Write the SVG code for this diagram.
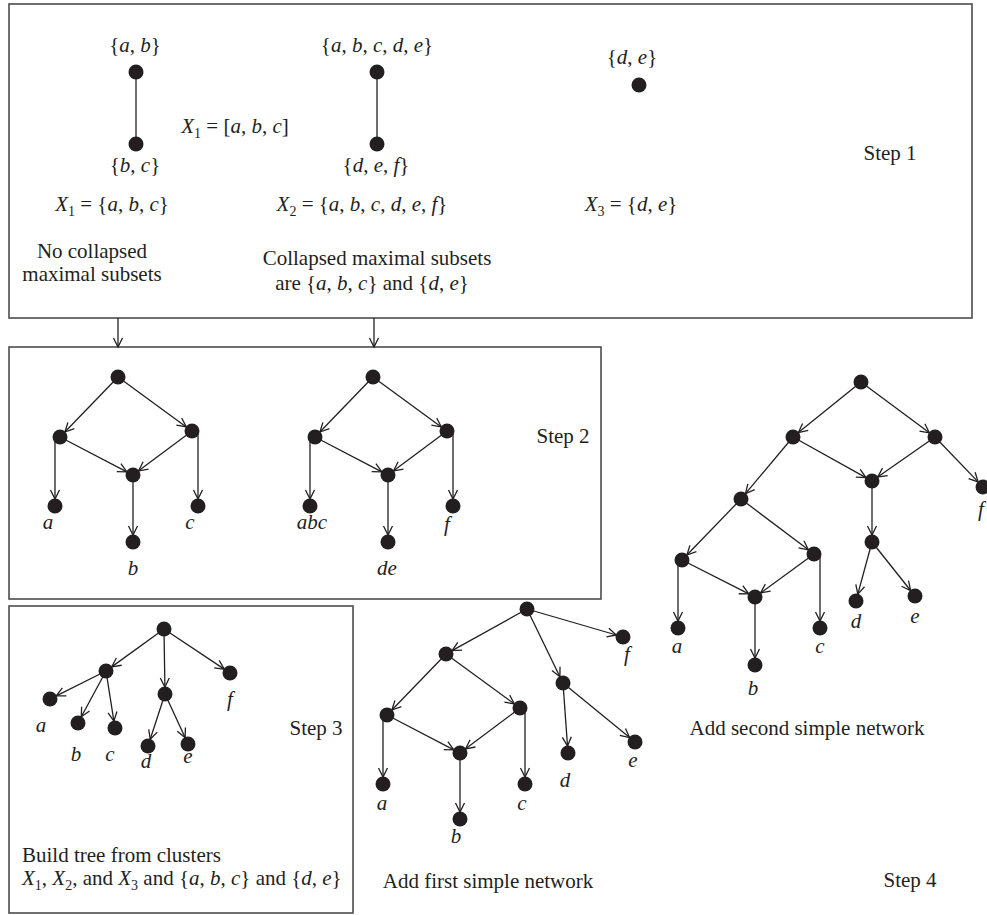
<svg xmlns="http://www.w3.org/2000/svg" width="987" height="915" viewBox="0 0 987 915">
<style>
text{font-family:"Liberation Serif","Times New Roman",serif;font-size:21px;fill:#231f20}
.i{font-style:italic}
.sub{font-size:14px}
.c{text-anchor:middle}
.box{fill:none;stroke:#4d4d4d;stroke-width:1.6}
.e{stroke:#231f20;stroke-width:1.3;fill:none}
.a{marker-end:url(#arr)}
.n{fill:#231f20}
</style>
<defs>
<marker id="arr" markerUnits="userSpaceOnUse" markerWidth="12" markerHeight="12" viewBox="0 0 12 12" refX="10" refY="6" orient="auto">
<path d="M1,1.5 L10,6 L1,10.5" fill="none" stroke="#231f20" stroke-width="1.3"/>
</marker>
</defs>
<rect width="987" height="915" fill="#fff"/>
<g id="frames">
<rect class="box" x="9" y="4" width="963" height="314"/>
<rect class="box" x="9" y="347" width="592" height="252"/>
<rect class="box" x="9" y="606" width="344" height="307"/>
</g>
<g id="connectors">
<line class="e" x1="136" y1="72" x2="136" y2="144"/>
<line class="e" x1="377" y1="72" x2="377" y2="144"/>
<line class="e a" x1="118" y1="318" x2="118" y2="347"/>
<line class="e a" x1="374" y1="318" x2="374" y2="347"/>
<line class="e a" x1="118" y1="377" x2="64.9" y2="432"/>
<line class="e a" x1="118" y1="377" x2="186.3" y2="426.9"/>
<line class="e a" x1="60" y1="437" x2="126.8" y2="471.8"/>
<line class="e a" x1="192" y1="431" x2="138.6" y2="470.8"/>
<line class="e a" x1="55" y1="437" x2="55" y2="499"/>
<line class="e a" x1="198" y1="431" x2="198" y2="499"/>
<line class="e a" x1="133" y1="475" x2="133" y2="535"/>
<line class="e a" x1="373" y1="377" x2="319.9" y2="432"/>
<line class="e a" x1="373" y1="377" x2="441.3" y2="426.9"/>
<line class="e a" x1="315" y1="437" x2="381.8" y2="471.8"/>
<line class="e a" x1="447" y1="431" x2="393.6" y2="470.8"/>
<line class="e a" x1="310" y1="437" x2="310" y2="499"/>
<line class="e a" x1="453" y1="431" x2="453" y2="499"/>
<line class="e a" x1="388" y1="475" x2="388" y2="535"/>
<line class="e a" x1="164" y1="629" x2="111.7" y2="666.9"/>
<line class="e a" x1="164" y1="629" x2="164.9" y2="687"/>
<line class="e a" x1="164" y1="629" x2="224.2" y2="669.1"/>
<line class="e a" x1="106" y1="671" x2="56.3" y2="695.9"/>
<line class="e a" x1="106" y1="671" x2="81.3" y2="716.8"/>
<line class="e a" x1="106" y1="671" x2="113.9" y2="721.1"/>
<line class="e a" x1="165" y1="694" x2="150.2" y2="739.3"/>
<line class="e a" x1="165" y1="694" x2="185.1" y2="737.6"/>
<line class="e a" x1="527" y1="609" x2="452.1" y2="650.6"/>
<line class="e a" x1="527" y1="609" x2="616.3" y2="635"/>
<line class="e a" x1="527" y1="609" x2="559.9" y2="676.7"/>
<line class="e a" x1="446" y1="654" x2="391.9" y2="710"/>
<line class="e a" x1="446" y1="654" x2="514.3" y2="703.9"/>
<line class="e a" x1="387" y1="715" x2="453.8" y2="749.8"/>
<line class="e a" x1="520" y1="708" x2="465.6" y2="748.8"/>
<line class="e a" x1="383" y1="715" x2="383" y2="777"/>
<line class="e a" x1="525" y1="708" x2="525" y2="777"/>
<line class="e a" x1="460" y1="753" x2="460" y2="812"/>
<line class="e a" x1="563" y1="683" x2="567.5" y2="746"/>
<line class="e a" x1="563" y1="683" x2="629.6" y2="737.6"/>
<line class="e a" x1="861" y1="382" x2="798.4" y2="432.6"/>
<line class="e a" x1="861" y1="382" x2="929.4" y2="432.8"/>
<line class="e a" x1="793" y1="437" x2="865.9" y2="477.6"/>
<line class="e a" x1="935" y1="437" x2="877.7" y2="477"/>
<line class="e a" x1="935" y1="437" x2="978.1" y2="481.9"/>
<line class="e a" x1="793" y1="437" x2="745.5" y2="493.6"/>
<line class="e a" x1="872" y1="481" x2="872" y2="535"/>
<line class="e a" x1="741" y1="499" x2="686.9" y2="555"/>
<line class="e a" x1="741" y1="499" x2="808.4" y2="549.8"/>
<line class="e a" x1="682" y1="560" x2="748.8" y2="593.8"/>
<line class="e a" x1="814" y1="554" x2="760.7" y2="592.9"/>
<line class="e a" x1="678" y1="560" x2="678" y2="621"/>
<line class="e a" x1="820" y1="554" x2="820" y2="621"/>
<line class="e a" x1="755" y1="597" x2="755" y2="658"/>
<line class="e a" x1="872" y1="542" x2="857.8" y2="594.2"/>
<line class="e a" x1="872" y1="542" x2="910.6" y2="590.5"/>
</g>
<g id="s1-ab"><circle class="n" cx="136" cy="72" r="7.5"/><text class="c" x="135" y="52">{<tspan class="i">a</tspan>, <tspan class="i">b</tspan>}</text></g>
<g id="s1-bc"><circle class="n" cx="136" cy="144" r="7.5"/><text class="c" x="135" y="172">{<tspan class="i">b</tspan>, <tspan class="i">c</tspan>}</text></g>
<g id="s1-abcde"><circle class="n" cx="377" cy="72" r="7.5"/><text class="c" x="377" y="52">{<tspan class="i">a</tspan>, <tspan class="i">b</tspan>, <tspan class="i">c</tspan>, <tspan class="i">d</tspan>, <tspan class="i">e</tspan>}</text></g>
<g id="s1-def"><circle class="n" cx="377" cy="144" r="7.5"/><text class="c" x="376" y="172">{<tspan class="i">d</tspan>, <tspan class="i">e</tspan>, <tspan class="i">f</tspan>}</text></g>
<g id="s1-de"><circle class="n" cx="639" cy="85" r="7.5"/><text class="c" x="632" y="64">{<tspan class="i">d</tspan>, <tspan class="i">e</tspan>}</text></g>
<g id="s2l-root"><circle class="n" cx="118" cy="377" r="7.5"/></g>
<g id="s2l-l"><circle class="n" cx="60" cy="437" r="7.5"/></g>
<g id="s2l-r"><circle class="n" cx="192" cy="431" r="7.5"/></g>
<g id="s2l-m"><circle class="n" cx="133" cy="475" r="7.5"/></g>
<g id="s2l-a"><circle class="n" cx="55" cy="506" r="7.5"/><text class="c i" x="48" y="529">a</text></g>
<g id="s2l-c"><circle class="n" cx="198" cy="506" r="7.5"/><text class="c i" x="190" y="529">c</text></g>
<g id="s2l-b"><circle class="n" cx="133" cy="542" r="7.5"/><text class="c i" x="133" y="575">b</text></g>
<g id="s2r-root"><circle class="n" cx="373" cy="377" r="7.5"/></g>
<g id="s2r-l"><circle class="n" cx="315" cy="437" r="7.5"/></g>
<g id="s2r-r"><circle class="n" cx="447" cy="431" r="7.5"/></g>
<g id="s2r-m"><circle class="n" cx="388" cy="475" r="7.5"/></g>
<g id="s2r-abc"><circle class="n" cx="310" cy="506" r="7.5"/><text class="c i" x="312" y="529">abc</text></g>
<g id="s2r-f"><circle class="n" cx="453" cy="506" r="7.5"/><text class="c i" x="447" y="531">f</text></g>
<g id="s2r-de"><circle class="n" cx="388" cy="542" r="7.5"/><text class="c i" x="387" y="575">de</text></g>
<g id="s3-root"><circle class="n" cx="164" cy="629" r="7.5"/></g>
<g id="s3-abc"><circle class="n" cx="106" cy="671" r="7.5"/></g>
<g id="s3-de"><circle class="n" cx="165" cy="694" r="7.5"/></g>
<g id="s3-f"><circle class="n" cx="230" cy="673" r="7.5"/><text class="c i" x="230" y="706">f</text></g>
<g id="s3-a"><circle class="n" cx="50" cy="699" r="7.5"/><text class="c i" x="41" y="732">a</text></g>
<g id="s3-b"><circle class="n" cx="78" cy="723" r="7.5"/><text class="c i" x="76" y="761">b</text></g>
<g id="s3-c"><circle class="n" cx="115" cy="728" r="7.5"/><text class="c i" x="110" y="761">c</text></g>
<g id="s3-d"><circle class="n" cx="148" cy="746" r="7.5"/><text class="c i" x="146" y="768">d</text></g>
<g id="s3-e"><circle class="n" cx="188" cy="744" r="7.5"/><text class="c i" x="188" y="763">e</text></g>
<g id="n1-root"><circle class="n" cx="527" cy="609" r="7.5"/></g>
<g id="n1-x"><circle class="n" cx="446" cy="654" r="7.5"/></g>
<g id="n1-f"><circle class="n" cx="623" cy="637" r="7.5"/><text class="c i" x="627" y="661">f</text></g>
<g id="n1-de"><circle class="n" cx="563" cy="683" r="7.5"/></g>
<g id="n1-l"><circle class="n" cx="387" cy="715" r="7.5"/></g>
<g id="n1-r"><circle class="n" cx="520" cy="708" r="7.5"/></g>
<g id="n1-m"><circle class="n" cx="460" cy="753" r="7.5"/></g>
<g id="n1-a"><circle class="n" cx="383" cy="784" r="7.5"/><text class="c i" x="382" y="810">a</text></g>
<g id="n1-c"><circle class="n" cx="525" cy="784" r="7.5"/><text class="c i" x="522" y="810">c</text></g>
<g id="n1-b"><circle class="n" cx="460" cy="819" r="7.5"/><text class="c i" x="456" y="843">b</text></g>
<g id="n1-d"><circle class="n" cx="568" cy="753" r="7.5"/><text class="c i" x="565" y="787">d</text></g>
<g id="n1-e"><circle class="n" cx="635" cy="742" r="7.5"/><text class="c i" x="633" y="767">e</text></g>
<g id="n2-root"><circle class="n" cx="861" cy="382" r="7.5"/></g>
<g id="n2-l"><circle class="n" cx="793" cy="437" r="7.5"/></g>
<g id="n2-r"><circle class="n" cx="935" cy="437" r="7.5"/></g>
<g id="n2-m"><circle class="n" cx="872" cy="481" r="7.5"/></g>
<g id="n2-f"><circle class="n" cx="983" cy="487" r="7.5"/><text class="c i" x="981" y="516">f</text></g>
<g id="n2-ll"><circle class="n" cx="741" cy="499" r="7.5"/></g>
<g id="n2-de"><circle class="n" cx="872" cy="542" r="7.5"/></g>
<g id="n2-lll"><circle class="n" cx="682" cy="560" r="7.5"/></g>
<g id="n2-llr"><circle class="n" cx="814" cy="554" r="7.5"/></g>
<g id="n2-lm"><circle class="n" cx="755" cy="597" r="7.5"/></g>
<g id="n2-d"><circle class="n" cx="856" cy="601" r="7.5"/><text class="c i" x="856" y="628">d</text></g>
<g id="n2-e"><circle class="n" cx="915" cy="596" r="7.5"/><text class="c i" x="915" y="623">e</text></g>
<g id="n2-a"><circle class="n" cx="678" cy="628" r="7.5"/><text class="c i" x="677" y="653">a</text></g>
<g id="n2-c"><circle class="n" cx="820" cy="628" r="7.5"/><text class="c i" x="820" y="653">c</text></g>
<g id="n2-b"><circle class="n" cx="755" cy="665" r="7.5"/><text class="c i" x="753" y="695">b</text></g>
<g id="texts">
<text class="c" x="235" y="133"><tspan class="i">X</tspan><tspan class="sub" dy="5">1</tspan><tspan dy="-5"> = [</tspan><tspan class="i">a</tspan>, <tspan class="i">b</tspan>, <tspan class="i">c</tspan>]</text>
<text class="c" x="112" y="211"><tspan class="i">X</tspan><tspan class="sub" dy="5">1</tspan><tspan dy="-5"> = {</tspan><tspan class="i">a</tspan>, <tspan class="i">b</tspan>, <tspan class="i">c</tspan>}</text>
<text class="c" x="362" y="211"><tspan class="i">X</tspan><tspan class="sub" dy="5">2</tspan><tspan dy="-5"> = {</tspan><tspan class="i">a</tspan>, <tspan class="i">b</tspan>, <tspan class="i">c</tspan>, <tspan class="i">d</tspan>, <tspan class="i">e</tspan>, <tspan class="i">f</tspan>}</text>
<text class="c" x="631" y="211"><tspan class="i">X</tspan><tspan class="sub" dy="5">3</tspan><tspan dy="-5"> = {</tspan><tspan class="i">d</tspan>, <tspan class="i">e</tspan>}</text>
<text class="c" x="92" y="258">No collapsed</text>
<text class="c" x="92" y="281">maximal subsets</text>
<text class="c" x="377" y="265">Collapsed maximal subsets</text>
<text class="c" x="372" y="290">are {<tspan class="i">a</tspan>, <tspan class="i">b</tspan>, <tspan class="i">c</tspan>} and {<tspan class="i">d</tspan>, <tspan class="i">e</tspan>}</text>
<text class="c" x="890" y="160">Step 1</text>
<text class="c" x="563" y="443">Step 2</text>
<text class="c" x="316" y="735">Step 3</text>
<text class="c" x="910" y="887">Step 4</text>
<text x="22" y="862">Build tree from clusters</text>
<text x="22" y="885"><tspan class="i">X</tspan><tspan class="sub" dy="5">1</tspan><tspan dy="-5">, </tspan><tspan class="i">X</tspan><tspan class="sub" dy="5">2</tspan><tspan dy="-5">, and </tspan><tspan class="i">X</tspan><tspan class="sub" dy="5">3</tspan><tspan dy="-5"> and {</tspan><tspan class="i">a</tspan>, <tspan class="i">b</tspan>, <tspan class="i">c</tspan>} and {<tspan class="i">d</tspan>, <tspan class="i">e</tspan>}</text>
<text class="c" x="488" y="888">Add first simple network</text>
<text class="c" x="807" y="735">Add second simple network</text>
</g>
</svg>
